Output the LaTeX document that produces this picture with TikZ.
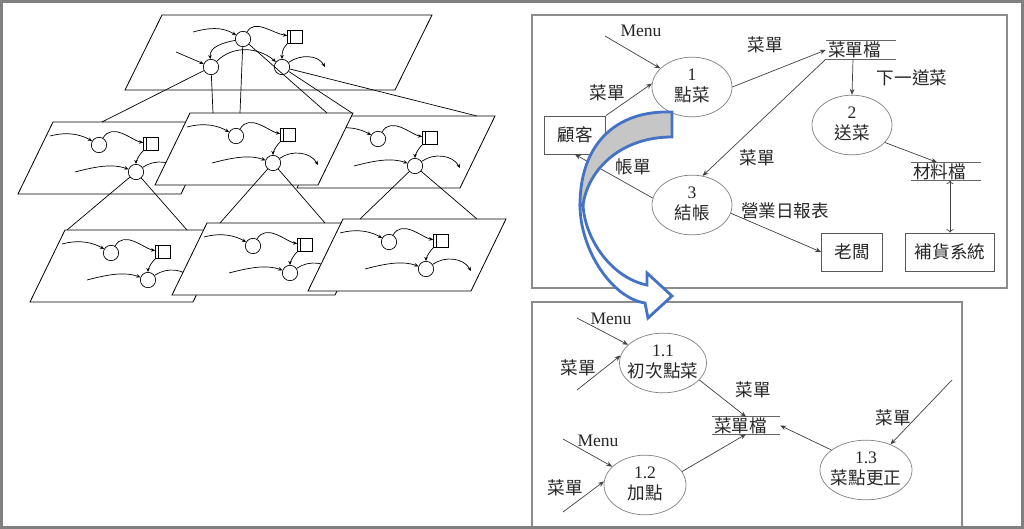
\documentclass[tikz,border=0pt]{standalone}
\usepackage{fontspec}
\setmainfont{Liberation Serif}
\newfontfamily\cjk{Noto Sans CJK TC}
\usetikzlibrary{arrows.meta,shapes.geometric}

\definecolor{arrowblue}{RGB}{68,114,196}

% two line text inside a process bubble
\newcommand{\ptext}[2]{\makebox[0pt]{\begin{tabular}{@{}c@{}}#1\\{\cjk #2}\end{tabular}}}

\tikzset{
  plane/.style={draw, fill=white, line width=0.7pt},
  pcirc/.style={circle, draw, fill=white, inner sep=0pt, minimum size=0.46cm, line width=0.6pt},
  pbox/.style={rectangle, draw, fill=white, inner sep=0pt, minimum width=0.45cm, minimum height=0.39cm, line width=0.6pt},
  parr/.style={-{Stealth[length=3.5pt,width=3pt]}, line width=0.6pt},
  link/.style={line width=0.6pt},
  proc/.style={ellipse, draw=black!50, line width=0.6pt, inner sep=0pt, minimum width=2.4cm, minimum height=1.68cm},
  ent/.style={rectangle, draw=black!65, line width=0.7pt, inner sep=0pt, minimum width=1.83cm, minimum height=1.14cm},
  store/.style={inner ysep=0pt, inner xsep=0.06cm, text width=1.98cm, align=left, minimum height=0.54cm},
  storeline/.style={draw=black!60, line width=0.7pt},
  flow/.style={-{Stealth[length=5pt,width=4pt]}, draw=black!75, line width=0.6pt},
  frame/.style={draw=black!45, line width=1pt},
  % one small dfd sheet of the lower levels
  miniplane/.pic={
    \draw[plane] (0,0) -- (163,0) -- (128,72) -- (-35,72) -- cycle;
    \node[pcirc] (-c1) at (46,23) {};
    \node[pbox] (-s) at (98,22) {};
    \draw ([xshift=0.09cm]-s.north west) -- ([xshift=0.09cm]-s.south west);
    \node[pcirc] (-c2) at (83,50) {};
    \coordinate (-i1) at (-3,14);
    \coordinate (-i2) at (22,50);
    \coordinate (-o) at (128,52);
    \draw[parr] (-i1) to[out=15,in=150] (-c1);
    \draw[parr] (-c1) to[out=60,in=170] (-s);
    \draw[parr] (-s.south west) to[out=-135,in=90] (-c2);
    \draw[parr] (-i2) to[out=15,in=160] (-c2);
    \draw[parr] (-c2) to[out=35,in=120] (-o);
  }
}

\begin{document}
\begin{tikzpicture}[x=0.03cm, y=-0.03cm, font=\fontsize{15}{18}\selectfont, text=black!85]
    \useasboundingbox (0,0) rectangle (1024,529);

    % top level sheet
    \draw[plane] (162,15) -- (432,15) -- (395,90) -- (125,90) -- cycle;
    \node[pcirc] (tA) at (243,39) {};
    \node[pbox] (tS) at (295,37) {};
    \draw ([xshift=0.09cm]tS.north west) -- ([xshift=0.09cm]tS.south west);
    \node[pcirc] (tB) at (211,67) {};
    \node[pcirc] (tC) at (282,67) {};
    \coordinate (t1) at (193,32);
    \coordinate (t2) at (176,52);
    \coordinate (t3) at (325,67);
    \draw[parr] (t1) to[out=15,in=150] (tA);
    \draw[parr] (tA) to[out=60,in=170] (tS);
    \draw[parr] (tS.south west) to[out=-135,in=90] (tC);
    \draw[parr] (tA) to[out=190,in=95] (tB);
    \draw[parr] (t2) -- (tB);
    \draw[parr] (tB) to[out=45,in=140] (tC);
    \draw[parr] (tC) to[out=35,in=120] (t3);

    % second level
    \pic (ml) at (53,122) {miniplane};
    \pic (mr) at (332,116) {miniplane};
    \pic (mc) at (190,113) {miniplane};

    % third level
    \pic (bl) at (65,230) {miniplane};
    \pic (bc) at (207,223) {miniplane};
    \pic (br) at (343,219) {miniplane};

    % decomposition lines
    \coordinate (k1) at (102,122);
    \coordinate (k2) at (213,113);
    \coordinate (k3) at (240,113);
    \coordinate (k4) at (327,113);
    \coordinate (k5) at (352,113);
    \coordinate (k6) at (477,116);
    \coordinate (k7) at (67,230);
    \coordinate (k8) at (187,230);
    \coordinate (k9) at (220,223);
    \coordinate (k10) at (325,223);
    \coordinate (k11) at (360,219);
    \coordinate (k12) at (477,219);
    \draw[link] (tB) -- (k1) (tB) -- (k2) (tA) -- (k3) (tA) -- (k4) (tC) -- (k5) (tC) -- (k6);
    \draw[link] (ml-c2) -- (k7) (ml-c2) -- (k8) (mc-c2) -- (k9) (mc-c2) -- (k10) (mr-c2) -- (k11) (mr-c2) -- (k12);

    % level 0 diagram
    \draw[frame] (532,15) rectangle (1007,288);
    \node[proc] (p1) at (692,87) {\ptext{1}{點菜}};
    \node[proc] (p2) at (852,125) {\ptext{2}{送菜}};
    \node[proc] (p3) at (692,205) {\ptext{3}{結帳}};
    \node[ent] (cust) at (575,135) {\cjk 顧客};
    \node[ent] (boss) at (852,252) {\cjk 老闆};
    \node[ent, minimum width=2.67cm] (sup) at (950,252) {\cjk 補貨系統};
    \node[store] (menu) at (861,50) {\cjk 菜單檔};
    \node[store] (mat) at (946,171.5) {\cjk 材料檔};
    \draw[storeline] (menu.north west) -- (menu.north east) (menu.south west) -- (menu.south east);
    \draw[storeline] (mat.north west) -- (mat.north east) (mat.south west) -- (mat.south east);

    \coordinate (m0) at (605,36);
    \draw[flow] (m0) -- (p1);
    \draw[flow] (cust.north east) -- (p1.175);
    \draw[flow] (p1.east) -- (menu.west);
    \draw[flow] ([xshift=-0.24cm]menu.south) -- (p2.north);
    \draw[flow] (p2.-28) -- ([xshift=-0.27cm]mat.north);
    \draw[flow, <->] (mat.south -| sup.north) -- (sup.north);
    \draw[flow] (menu.south west) -- (p3.70);
    \draw[flow] (p3.170) -- (cust.south);
    \draw[flow] (p3.-12) -- (boss.west);

    % labels
    \node (l1) at (641,31) {Menu};
    \node (l2) at (607,93) {\cjk 菜單};
    \node (l3) at (765,45) {\cjk 菜單};
    \node (l4) at (912,78) {\cjk 下一道菜};
    \node (l5) at (757,158) {\cjk 菜單};
    \node (l6) at (633,167) {\cjk 帳單};
    \node (l7) at (785,211) {\cjk 營業日報表};

    % level 1 diagram of process 1
    \draw[frame] (532,529) -- (532,302) -- (962,302) -- (962,529);
    \node[proc, minimum width=2.61cm, minimum height=1.62cm] (q1) at (663,363) {\ptext{1.1}{初次點菜}};
    \node[proc, minimum width=2.46cm] (q2) at (645,485) {\ptext{1.2}{加點}};
    \node[proc, minimum width=2.76cm, minimum height=1.62cm] (q3) at (866,470) {\ptext{1.3}{菜點更正}};
    \node[store, text width=1.92cm, minimum height=0.51cm] (menu2) at (746,425.5) {\cjk 菜單檔};
    \draw[storeline] (menu2.north west) -- (menu2.north east) (menu2.south west) -- (menu2.south east);

    \coordinate (n1) at (577,318);
    \coordinate (n2) at (577,390);
    \coordinate (n3) at (563,439);
    \coordinate (n4) at (563,512);
    \coordinate (n5) at (952,380);
    \draw[flow] (n1) -- (q1);
    \draw[flow] (n2) -- (q1.170);
    \draw[flow] (q1.-25) -- (menu2.north);
    \draw[flow] (n3) -- (q2);
    \draw[flow] (n4) -- (q2.175);
    \draw[flow] (q2.20) -- (menu2.south);
    \draw[flow] (q3.150) -- (menu2.east);
    \draw[flow] (n5) -- (q3);

    % labels
    \node (r1) at (611,319) {Menu};
    \node (r2) at (578,368) {\cjk 菜單};
    \node (r3) at (753,390) {\cjk 菜單};
    \node (r4) at (598,441) {Menu};
    \node (r5) at (565,488) {\cjk 菜單};
    \node (r6) at (893,418) {\cjk 菜單};

    % big curved arrow
    \filldraw[fill=gray!45, draw=arrowblue, line width=2.4pt] (672,112) .. controls (615,110) and (580,145) .. (580,205) -- (583,205) .. controls (588,170) and (620,137) .. (672,137) -- cycle;
    \filldraw[fill=white, draw=arrowblue, line width=2.4pt] (580,205) .. controls (580,250) and (612,298) .. (645,303) -- (648,318) -- (672,296) -- (647,273) -- (647,285) .. controls (612,278) and (585,240) .. (583,205) -- cycle;

    % outer border
    \draw[draw=black!50, line width=2.5pt] (1.5,1.5) rectangle (1022.5,527.5);
\end{tikzpicture}
\end{document}
